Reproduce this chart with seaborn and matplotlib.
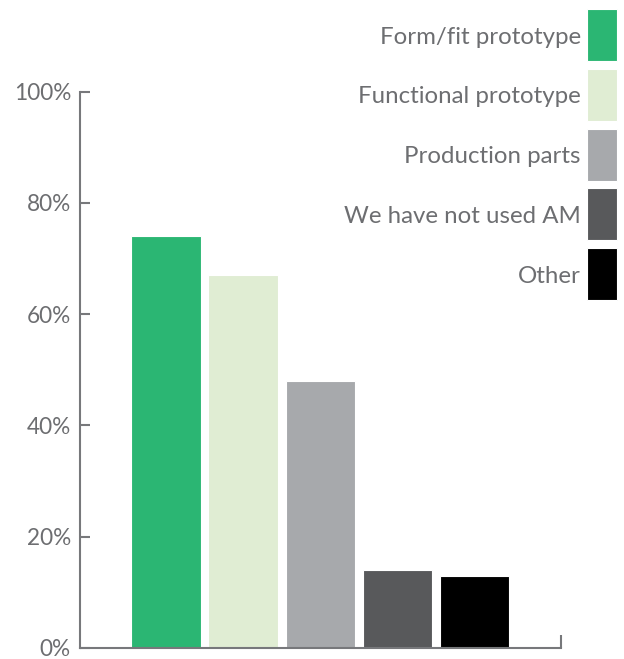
import matplotlib
matplotlib.use("Agg")
import matplotlib.pyplot as plt
from matplotlib.patches import Rectangle
import seaborn as sns

# Survey shares: how additive manufacturing (AM) has been used
categories = ["Form/fit prototype", "Functional prototype", "Production parts",
              "We have not used AM", "Other"]
shares = [74, 67, 48, 14, 13]
colors = ["#2bb673", "#e0edd3", "#a7a9ac", "#58595b", "#000000"]
ytick_values = [0, 20, 40, 60, 80, 100]
ytick_labels = ["0%", "20%", "40%", "60%", "80%", "100%"]

TEXT = "#6d6e71"
AXIS = "#77787b"

sns.set_theme(style="white")
plt.rcParams["font.family"] = ["Lato", "DejaVu Sans"]

W, H = 624, 659
fig = plt.figure(figsize=(W / 100, H / 100), dpi=100)
# axes box in pixels: x 80..561, y 91.5 (100%) .. 648 (0%)
ax = fig.add_axes([80 / W, 1 - 648 / H, (561 - 80) / W, (648 - 91.5) / H])

sns.barplot(x=categories, y=shares, hue=categories, palette=colors,
            width=0.9, legend=False, saturation=1, ax=ax,
            edgecolor="white", linewidth=0.8)

x_left, x_right = -1.117, 5.123
ax.set_xlim(x_left, x_right)
ax.set_ylim(0, 100)

for side in ("top", "right"):
    ax.spines[side].set_visible(False)
for side in ("left", "bottom"):
    ax.spines[side].set_color(AXIS)
    ax.spines[side].set_linewidth(1.5)

ax.set_yticks(ytick_values)
ax.set_yticklabels(ytick_labels)
ax.tick_params(axis="y", direction="in", length=7.5, width=1.5, color=AXIS,
               labelcolor=TEXT, labelsize=16.3, pad=6.5, left=True)
ax.set_xticks([x_right])
ax.set_xticklabels([""])
ax.tick_params(axis="x", direction="in", length=9.5, width=1.5, color=AXIS,
               bottom=True)
ax.set_xlabel("")
ax.set_ylabel("")

# Legend column in the top-right corner: swatch on the right, label to its left
sw_left, sw_w, sw_h = 587, 30, 52
pitch = 59.75
for i, (label, color) in enumerate(zip(categories, colors)):
    top = 9 + i * pitch
    fig.patches.append(Rectangle((sw_left / W, 1 - (top + sw_h) / H),
                                 sw_w / W, sw_h / H, transform=fig.transFigure,
                                 facecolor=color, edgecolor="white",
                                 linewidth=0.8))
    fig.text(581 / W, 1 - (top + 34.5) / H, label, ha="right",
             va="baseline", fontsize=17.3, color=TEXT)

fig.savefig("out.png", dpi=100)
